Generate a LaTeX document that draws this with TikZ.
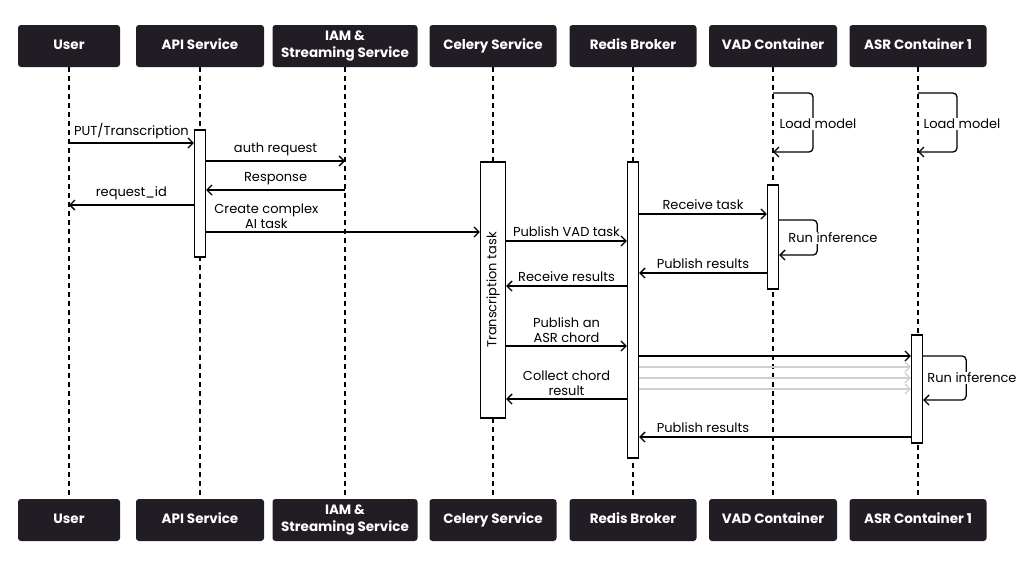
\documentclass[tikz,border=0pt]{standalone}
\usepackage{fontspec}
\setmainfont{Poppins}
\usetikzlibrary{arrows.meta, positioning, calc}

\definecolor{boxdark}{HTML}{221C25}
\definecolor{chordgray}{HTML}{CFCFCF}

\tikzset{
  actor/.style={fill=boxdark, rounded corners=3pt, minimum height=42pt, inner sep=2pt,
    text=white, align=center, font=\fontsize{13.5}{16.5}\selectfont\bfseries},
  oneline/.style={text height=0.85em, text depth=0.15em},
  life/.style={dash pattern=on 5pt off 4pt, line width=1.3pt},
  act/.style={draw, fill=white, line width=1.3pt, inner sep=0pt, minimum width=11pt},
  msg/.style={-{Straight Barb[length=5pt,width=10pt]}, line width=1.3pt},
  loopmsg/.style={msg, rounded corners=4pt},
  lbl/.style={font=\fontsize{13}{14.5}\selectfont, align=center, inner sep=1pt},
  sidelbl/.style={lbl, fill=white}
}

\begin{document}
\begin{tikzpicture}[x=1pt, y=-1pt]
        \useasboundingbox (0,0) rectangle (1024,576);

        % participants, top row
        \node[actor, oneline, minimum width=102pt] (user) at (69,46) {User};
        \node[actor, oneline, minimum width=128pt] (api) at (200,46) {API Service};
        \node[actor, minimum width=145pt] (iam) at (345,46) {IAM \&\\Streaming Service};
        \node[actor, oneline, minimum width=127pt] (celery) at (493,46) {Celery Service};
        \node[actor, oneline, minimum width=127pt] (redis) at (633,46) {Redis Broker};
        \node[actor, oneline, minimum width=128pt] (vad) at (773,46) {VAD Container};
        \node[actor, oneline, minimum width=137pt] (asr) at (918,46) {ASR Container 1};

        % participants, bottom row
        \node[actor, oneline, minimum width=102pt] (userb) at (69,520) {User};
        \node[actor, oneline, minimum width=128pt] (apib) at (200,520) {API Service};
        \node[actor, minimum width=145pt] (iamb) at (345,520) {IAM \&\\Streaming Service};
        \node[actor, oneline, minimum width=127pt] (celeryb) at (493,520) {Celery Service};
        \node[actor, oneline, minimum width=127pt] (redisb) at (633,520) {Redis Broker};
        \node[actor, oneline, minimum width=128pt] (vadb) at (773,520) {VAD Container};
        \node[actor, oneline, minimum width=137pt] (asrb) at (918,520) {ASR Container 1};

        % lifelines
        \draw[life] (user.south) -- (userb.north);
        \draw[life] (api.south) -- (apib.north);
        \draw[life] (iam.south) -- (iamb.north);
        \draw[life] (celery.south) -- (celeryb.north);
        \draw[life] (redis.south) -- (redisb.north);
        \draw[life] (vad.south) -- (vadb.north);
        \draw[life] (asr.south) -- (asrb.north);

        % activations
        \node[act, minimum height=127pt] (apiact) at (200,193.5) {};
        \node[act, minimum width=25pt, minimum height=256pt] (celact) at (493,290) {};
        \node[act, minimum height=296pt] (redisact) at (633,310) {};
        \node[act, minimum height=104pt] (vadact) at (773,237) {};
        \node[act, minimum height=108pt] (asract) at (917,389) {};
        \node[lbl, rotate=90] (tasklbl) at (celact) {Transcription task};

        % messages
        \coordinate (M1) at (69,143);
        \draw[msg] (M1) -- (M1 -| apiact.west) node[lbl, midway, above=2pt] {PUT/Transcription};

        \coordinate (M2) at (345,161);
        \draw[msg] (M2 -| apiact.east) -- (M2) node[lbl, midway, above=3pt] {auth request};

        \coordinate (M3) at (345,190);
        \draw[msg] (M3) -- (M3 -| apiact.east) node[lbl, midway, above=3pt] {Response};

        \coordinate (M4) at (69,205);
        \draw[msg] (M4 -| apiact.west) -- (M4) node[lbl, midway, above=3pt] {request\_id};

        \coordinate (M5) at (200,232);
        \draw[msg] (M5 -| apiact.east) -- (M5 -| celact.west) node[lbl, pos=0.22, above=2pt] {Create complex\\AI task};

        \coordinate (M6) at (493,241);
        \draw[msg] (M6 -| celact.east) -- (M6 -| redisact.west) node[lbl, midway, above=3pt] {Publish VAD task};

        \coordinate (M7) at (633,214);
        \draw[msg] (M7 -| redisact.east) -- (M7 -| vadact.west) node[lbl, midway, above=3pt] {Receive task};

        \coordinate (M8) at (773,273);
        \draw[msg] (M8 -| vadact.west) -- (M8 -| redisact.east) node[lbl, midway, above=3pt] {Publish results};

        \coordinate (M9) at (633,286);
        \draw[msg] (M9 -| redisact.west) -- (M9 -| celact.east) node[lbl, midway, above=3pt] {Receive results};

        \coordinate (M10) at (493,346);
        \draw[msg] (M10 -| celact.east) -- (M10 -| redisact.west) node[lbl, midway, above=2pt] {Publish an\\ASR chord};

        \coordinate (M11) at (633,356);
        \draw[msg] (M11 -| redisact.east) -- (M11 -| asract.west);
        \coordinate (M12) at (633,367);
        \draw[msg, chordgray] (M12 -| redisact.east) -- (M12 -| asract.west);
        \coordinate (M13) at (633,378);
        \draw[msg, chordgray] (M13 -| redisact.east) -- (M13 -| asract.west);
        \coordinate (M14) at (633,389);
        \draw[msg, chordgray] (M14 -| redisact.east) -- (M14 -| asract.west);

        \coordinate (M15) at (633,399);
        \draw[msg] (M15 -| redisact.west) -- (M15 -| celact.east) node[lbl, midway, above=2pt] {Collect chord\\result};

        \coordinate (M16) at (917,437);
        \draw[msg] (M16 -| asract.west) -- (M16 -| redisact.east) node[lbl, pos=0.765, above=3pt] {Publish results};

        % self calls
        \coordinate (L1) at (773,93);
        \coordinate (L1e) at (773,152);
        \draw[loopmsg] (L1) -- ++(40,0) |- (L1e);
        \node[sidelbl] (load1) at (818,124) {Load model};

        \coordinate (L2) at (918,93);
        \coordinate (L2e) at (918,152);
        \draw[loopmsg] (L2) -- ++(39,0) |- (L2e);
        \node[sidelbl] (load2) at (962,124) {Load model};

        \coordinate (R1) at (773,220);
        \coordinate (R1e) at (773,255);
        \draw[loopmsg] (R1 -| vadact.east) -- ++(38,0) |- (R1e -| vadact.east);
        \node[sidelbl] (run1) at (833,238) {Run inference};

        \coordinate (R2) at (917,356);
        \coordinate (R2e) at (917,400);
        \draw[loopmsg] (R2 -| asract.east) -- ++(43,0) |- (R2e -| asract.east);
        \node[sidelbl] (run2) at (972,378) {Run inference};
    \end{tikzpicture}
\end{document}
